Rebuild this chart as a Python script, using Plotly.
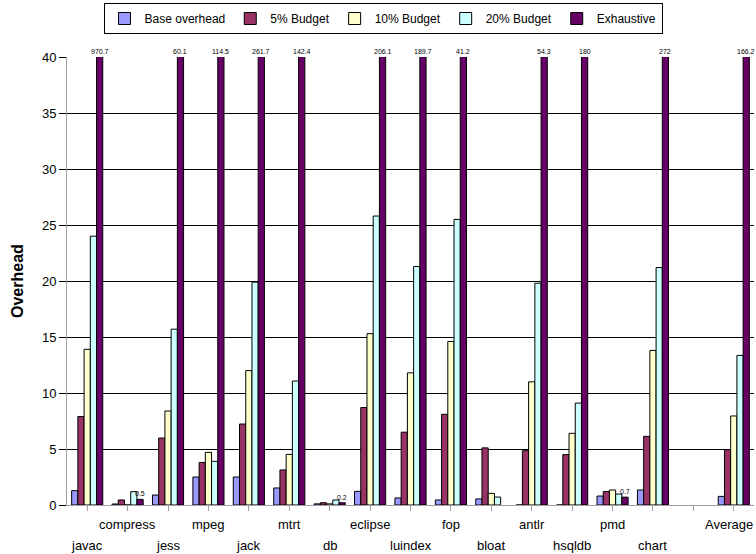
import plotly.graph_objects as go

categories = ["javac", "compress", "jess", "mpeg", "jack", "mtrt", "db", "eclipse",
              "luindex", "fop", "bloat", "antlr", "hsqldb", "pmd", "chart", "", "Average"]
base_overhead = [1.28, 0.09, 0.89, 2.5, 2.5, 1.52, 0.1, 1.22, 0.63, 0.45, 0.54, 0, 0, 0.8, 1.34, None, 0.77]
budget_5 = [7.9, 0.45, 5.98, 3.8, 7.23, 3.13, 0.2, 8.7, 6.5, 8.1, 5.1, 4.85, 4.5, 1.2, 6.13, None, 4.94]
budget_10 = [13.9, 0, 8.39, 4.7, 12.0, 4.52, 0.1, 15.3, 11.8, 14.6, 1.04, 11.0, 6.4, 1.34, 13.8, None, 7.95]
budget_20 = [24.0, 1.19, 15.7, 3.9, 19.9, 11.07, 0.45, 25.8, 21.3, 25.5, 0.71, 19.8, 9.1, 0.98, 21.2, None, 13.36]
exhaustive = [970.7, 0.5, 60.1, 114.5, 261.7, 142.4, 0.2, 206.1, 189.7, 41.2, None, 54.3, 180, 0.7, 272, None, 166.2]

series_names = ["Base overhead", "5% Budget", "10% Budget", "20% Budget", "Exhaustive"]
series_values = [base_overhead, budget_5, budget_10, budget_20, exhaustive]
colors = ["#9999FF", "#993366", "#FFFFCC", "#CCFFFF", "#660066"]

Y_MAX = 40
BARGAP = 0.23
FONT = "Liberation Sans, Arial, sans-serif"

xpos = list(range(len(categories)))

fig = go.Figure()
for name, vals, col in zip(series_names, series_values, colors):
    fig.add_trace(go.Bar(
        x=xpos, y=vals, name=name,
        marker=dict(color=col, line=dict(color="black", width=1)),
    ))

# value labels above exhaustive bars
ex_offset = 2 * (1 - BARGAP) / len(series_names)
annotations = []
for i, v in enumerate(exhaustive):
    if v is None:
        continue
    annotations.append(dict(
        x=i + ex_offset, y=min(v, Y_MAX), xref="x", yref="y",
        text=f"{v:g}", showarrow=False, yanchor="bottom", xanchor="center",
        yshift=0, font=dict(size=7, color="black", family=FONT),
    ))

# alternating category labels (alternate over non-empty labels)
k = 0
for i, c in enumerate(categories):
    if not c:
        continue
    annotations.append(dict(
        x=i, y=-0.0446 if k % 2 == 1 else -0.0915, xref="x", yref="paper",
        text=c, showarrow=False, yanchor="middle", xanchor="center",
        xshift=-5 if i == len(categories) - 1 else 0,
        font=dict(size=13, color="black", family=FONT),
    ))
    k += 1

# y axis title
annotations.append(dict(
    x=-0.0728, y=0.5, xref="paper", yref="paper", text="<b>Overhead</b>",
    textangle=-90, showarrow=False, xanchor="center", yanchor="middle",
    font=dict(size=16, color="black", family=FONT),
))

fig.update_layout(
    width=756, height=554,
    margin=dict(l=67, r=2, t=57, b=49),
    paper_bgcolor="white", plot_bgcolor="white",
    barmode="group", bargap=BARGAP, bargroupgap=0,
    font=dict(family=FONT, color="black", size=13),
    showlegend=True,
    legend=dict(
        orientation="h", x=0.46, xanchor="center", y=1.1205, yanchor="top",
        bordercolor="black", borderwidth=1, bgcolor="white",
        font=dict(size=12, family=FONT, color="black"),
    ),
    annotations=annotations,
    xaxis=dict(
        range=[-0.5, len(categories) - 0.5],
        tickmode="array", tickvals=xpos, ticktext=[""] * len(xpos),
        ticks="outside", ticklen=5, tickcolor="#A0A0A0",
        showline=True, linecolor="#A0A0A0", linewidth=1,
        showgrid=False, zeroline=False, fixedrange=True,
    ),
    yaxis=dict(
        range=[0, Y_MAX], dtick=5, tick0=0,
        ticks="outside", ticklen=7, tickcolor="black",
        showgrid=True, gridcolor="black", gridwidth=1,
        showline=True, linecolor="#A0A0A0", linewidth=1,
        zeroline=False, tickfont=dict(size=13, family=FONT, color="black"),
    ),
)

fig.write_html("out.html")
